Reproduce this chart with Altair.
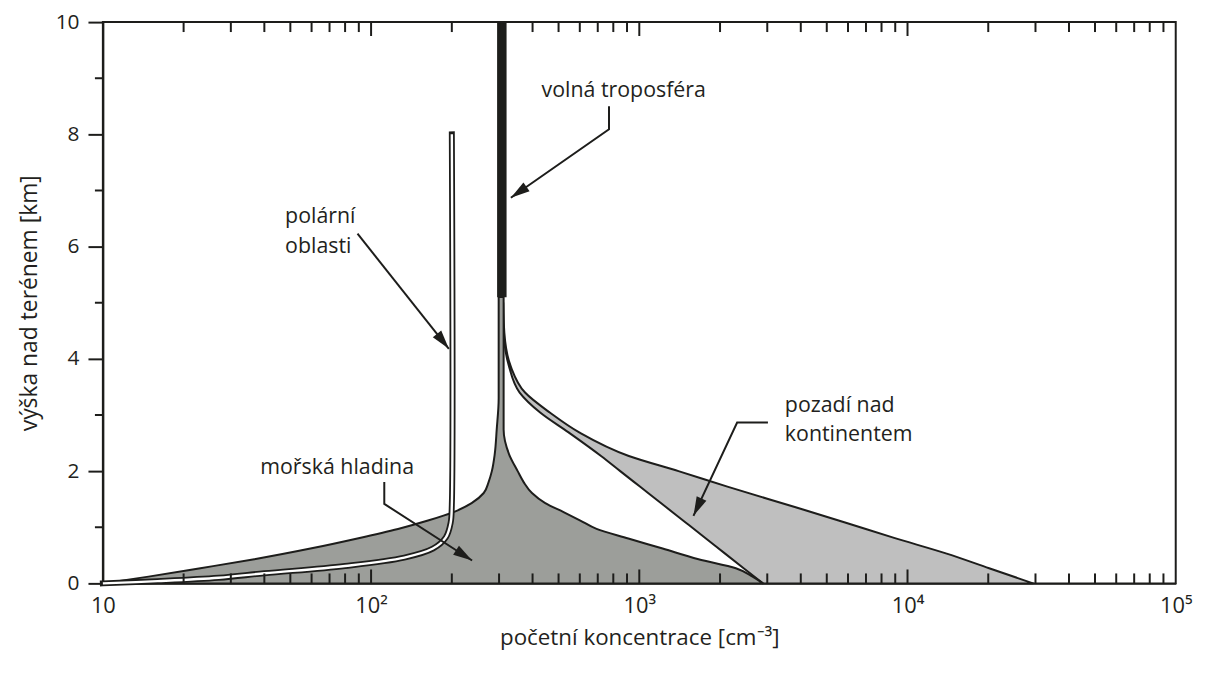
import math
import altair as alt
import pandas as pd

W, H = 1080, 565
INK = "#1d1d1b"
TXT = "#231f20"
FONT = "Open Sans"

# ---- profiles (x = number concentration [cm^-3], h = height [km]) ----
# marine (mořská hladina): left and right boundary at common heights
mar_h = [0, 0.12, 0.27, 0.43, 0.62, 0.8, 0.97, 1.12, 1.27, 1.43, 1.61, 1.8, 2.0, 2.3, 2.74, 3.3, 5.1]
mar_lo = [10, 14.8, 23.1, 36.7, 59.4, 88.9, 126, 163, 203, 237, 263, 274, 282, 289, 294, 299, 299]
mar_hi = [2891, 2644, 2291, 1663, 1222, 910, 693, 603, 522, 446, 398, 371, 352, 327, 312, 312, 312]

# continental background (pozadí nad kontinentem)
con_h = [0, 0.27, 0.53, 0.81, 1.09, 1.36, 1.72, 2.0, 2.27, 2.69, 3.04, 3.4, 3.86, 4.46, 5.0]
con_lo = [2891, 2449, 2089, 1762, 1484, 1257, 1008, 849, 720, 545, 428, 358, 327, 312, 310]
con_hi = [29400, 20150, 14000, 8913, 5810, 3800, 2145, 1400, 914, 597, 465, 375, 332, 314, 311]

# polar regions (polární oblasti)
pol_x = [10, 16, 27, 40, 80, 133, 170, 190, 198, 200, 200]
pol_h = [0, 0.04, 0.1, 0.18, 0.31, 0.46, 0.62, 0.82, 1.08, 1.4, 8.0]

# free troposphere (volná troposféra)
ft_lo, ft_hi = [295], [320]
ft_h0, ft_h1 = [5.1], [10]

# annotation arrows (polylines, last point = arrow tip)
arrow_names = ["volna", "polar", "morska", "pozadi"]
arrow_x = [[771, 771, 332], [89, 195], [112, 112, 238], [3017, 2316, 1592]]
arrow_h = [[8.50, 8.09, 6.87], [6.23, 4.18], [1.805, 1.416, 0.407], [2.867, 2.867, 1.204]]

# labels
lab_text = ["volná troposféra", "polární", "oblasti", "mořská hladina", "pozadí nad", "kontinentem"]
lab_x = [432, 47.8, 47.8, 38.6, 3489, 3489]
lab_h = [8.67, 6.42, 5.88, 1.947, 3.062, 2.531]

# axis ticks
x_major = [100, 1000, 10000]
x_minor = [m * d for d in [10, 100, 1000, 10000] for m in range(2, 10)]
y_major = [0, 2, 4, 6, 8, 10]
y_minor = [1, 3, 5, 7, 9]

# ---- tables ----
mar_df = pd.DataFrame({"h": mar_h, "lo": mar_lo, "hi": mar_hi})
con_df = pd.DataFrame({"h": con_h, "lo": con_lo, "hi": con_hi})
pol_df = pd.DataFrame({"x": pol_x, "h": pol_h, "o": list(range(len(pol_x)))})
ft_df = pd.DataFrame({"lo": ft_lo, "hi": ft_hi, "h0": ft_h0, "h1": ft_h1})

rows, tips = [], []
def px(v):
    return W * (math.log10(v) - 1) / 4
def py(h):
    return H * (1 - h / 10)
for name, xs, hs in zip(arrow_names, arrow_x, arrow_h):
    for i, (xv, hv) in enumerate(zip(xs, hs)):
        rows.append({"g": name, "o": i, "x": xv, "h": hv})
    dx = px(xs[-1]) - px(xs[-2])
    dy = py(hs[-1]) - py(hs[-2])
    ang = math.degrees(math.atan2(dx, -dy)) % 360
    tips.append({"x": xs[-1], "h": hs[-1], "ang": ang})
arr_df = pd.DataFrame(rows)
tip_df = pd.DataFrame(tips)
lab_df = pd.DataFrame({"t": lab_text, "x": lab_x, "h": lab_h})
xmaj_df = pd.DataFrame({"x": x_major})
xmin_df = pd.DataFrame({"x": x_minor})
ymin_df = pd.DataFrame({"h": y_minor})

label_expr = ("datum.value == 10 ? '10' : datum.value == 100 ? '10\u00b2' : "
              "datum.value == 1000 ? '10\u00b3' : datum.value == 10000 ? '10\u2074' : '10\u2075'")

xscale = alt.Scale(type="log", domain=[10, 100000], nice=False)
yscale = alt.Scale(domain=[0, 10], nice=False, zero=False)

xaxis = alt.Axis(values=[10, 100, 1000, 10000, 100000], labelExpr=label_expr,
                 ticks=False, tickSize=0, labelPadding=12, labelFontSize=22,
                 labelFlush=False, grid=False, domainColor=INK, domainWidth=2,
                 title="početní koncentrace [cm\u207b\u00b3]", titleFontSize=22.5,
                 titleFontWeight="normal", titlePadding=11)
yaxis = alt.Axis(values=y_major, format="d", tickSize=15, tickWidth=2, tickColor=INK,
                 labelPadding=9, labelFontSize=21, grid=False, domainColor=INK,
                 domainWidth=2, title="výška nad terénem [km]", titleFontSize=23,
                 titleFontWeight="normal", titlePadding=14)

con = alt.Chart(con_df).mark_area(orient="horizontal", color="#bfbfbf", interpolate="monotone",
                                  stroke=INK, strokeWidth=2, strokeJoin="round").encode(
    y=alt.Y("h:Q", scale=yscale, axis=yaxis),
    x=alt.X("lo:Q", scale=xscale, axis=xaxis),
    x2="hi:Q",
)
mar = alt.Chart(mar_df).mark_area(orient="horizontal", color="#9c9e9a", interpolate="monotone",
                                  stroke=INK, strokeWidth=2, strokeJoin="round").encode(
    y="h:Q", x="lo:Q", x2="hi:Q")
ft = alt.Chart(ft_df).mark_rect(color="#1d1e1b").encode(
    x="lo:Q", x2="hi:Q", y="h0:Q", y2="h1:Q")
pol_out = alt.Chart(pol_df).mark_line(color=INK, strokeWidth=6, strokeCap="square",
                                      interpolate="catmull-rom", strokeJoin="round").encode(
    x="x:Q", y="h:Q", order="o:Q")
pol_in = alt.Chart(pol_df).mark_line(color="white", strokeWidth=2.4, strokeCap="butt",
                                     interpolate="catmull-rom", strokeJoin="round").encode(
    x="x:Q", y="h:Q", order="o:Q")
arr = alt.Chart(arr_df).mark_line(color=INK, strokeWidth=2).encode(
    x="x:Q", y="h:Q", detail="g:N", order="o:Q")
tip = alt.Chart(tip_df).mark_point(shape="M0,0L0.45,1.6L-0.45,1.6Z", filled=True,
                                   color=INK, opacity=1, size=576, strokeWidth=0).encode(
    x="x:Q", y="h:Q", angle=alt.Angle("ang:Q", scale=None))
lab = alt.Chart(lab_df).mark_text(align="left", baseline="alphabetic", font=FONT,
                                  fontSize=21.5, color=TXT).encode(
    x="x:Q", y="h:Q", text="t:N")
xt_maj_b = alt.Chart(xmaj_df).mark_rule(color=INK, strokeWidth=2).encode(
    x="x:Q", y=alt.value(H), y2=alt.value(H - 14))
xt_min_b = alt.Chart(xmin_df).mark_rule(color=INK, strokeWidth=2).encode(
    x="x:Q", y=alt.value(H), y2=alt.value(H - 10))
xt_maj_t = alt.Chart(xmaj_df).mark_rule(color=INK, strokeWidth=2).encode(
    x="x:Q", y=alt.value(0), y2=alt.value(14))
xt_min_t = alt.Chart(xmin_df).mark_rule(color=INK, strokeWidth=2).encode(
    x="x:Q", y=alt.value(0), y2=alt.value(10))
yt_min = alt.Chart(ymin_df).mark_rule(color=INK, strokeWidth=2).encode(
    y="h:Q", x=alt.value(-8), x2=alt.value(0))

chart = alt.layer(con, mar, ft, pol_out, pol_in, arr, tip, lab,
                  xt_maj_b, xt_min_b, xt_maj_t, xt_min_t, yt_min).properties(
    width=W, height=H,
    autosize=alt.AutoSizeParams(type="none"),
    padding={"left": 95.5, "top": 12, "right": 34.5, "bottom": 85},
    background="white",
).configure_axis(
    labelFont=FONT, titleFont=FONT, labelColor=TXT, titleColor=TXT
).configure_view(stroke=INK, strokeWidth=2)

chart.save("out.html", embed_options={"renderer": "svg", "actions": False})
